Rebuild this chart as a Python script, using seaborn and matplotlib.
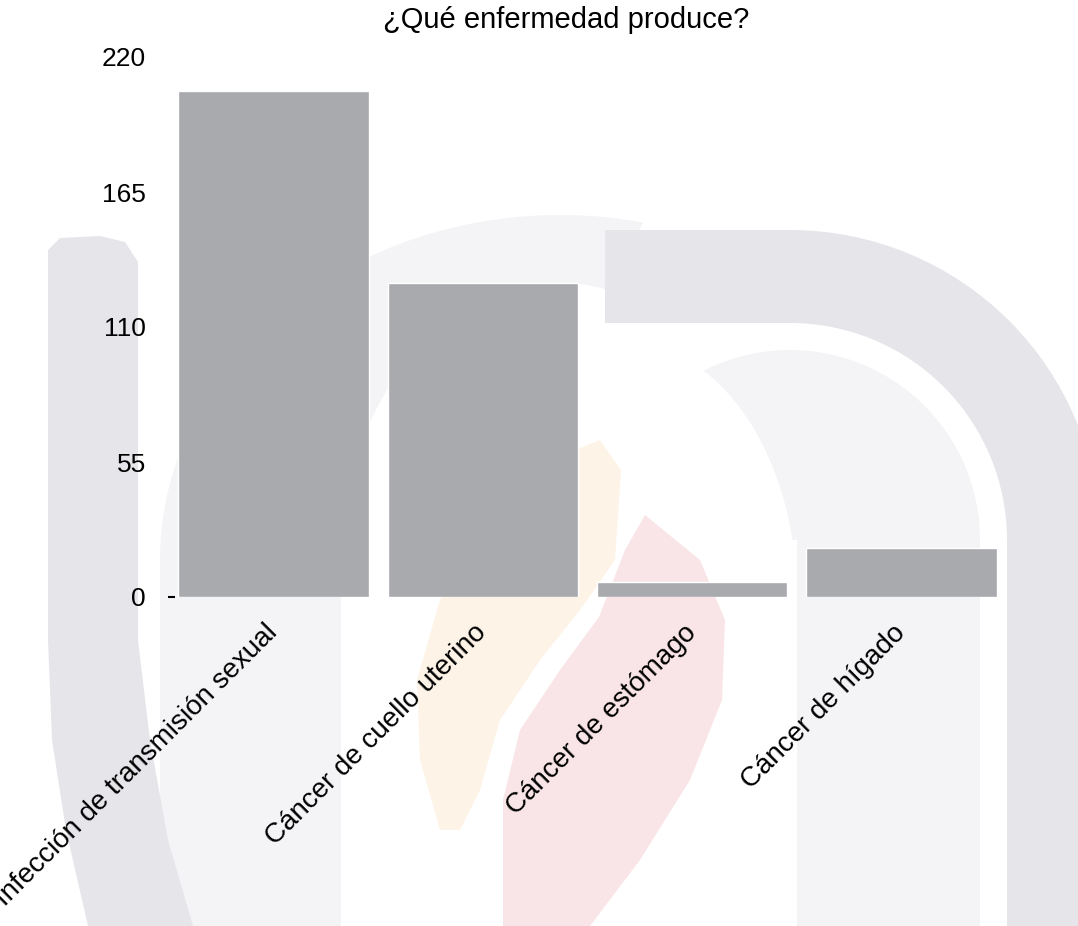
import numpy as np
import pandas as pd
import seaborn as sns
import matplotlib
matplotlib.use("Agg")
import matplotlib.pyplot as plt
import matplotlib.patches as mpatches

# data
categories = ["Infección de transmisión sexual", "Cáncer de cuello uterino",
              "Cáncer de estómago", "Cáncer de hígado"]
counts = [206, 128, 6, 20]
y_ticks = [0, 55, 110, 165, 220]
title = "¿Qué enfermedad produce?"

df = pd.DataFrame({"Enfermedad": categories, "Total": counts})

sns.set_theme(style="white")
plt.rcParams["font.family"] = ["Liberation Sans", "DejaVu Sans"]
plt.rcParams["text.color"] = "black"
plt.rcParams["xtick.color"] = "black"
plt.rcParams["ytick.color"] = "black"

fig = plt.figure(figsize=(10.78, 9.26), dpi=100, facecolor="white")

# --- faint logo watermark in the background (pixel coords) ---
bg = fig.add_axes([0, 0, 1, 1], zorder=0)
bg.set_xlim(0, 1078)
bg.set_ylim(926, 0)
bg.axis("off")
DARK, LIGHT, ORANGE, PINK = "#e6e5ea", "#f4f4f6", "#fef3e7", "#f9e5e7"

# left light arch
t_out = np.radians(np.linspace(180, 282, 60))
t_in = t_out[::-1]
outer = np.c_[560 + 400 * np.cos(t_out), 560 + 345 * np.sin(t_out)]
inner = np.c_[560 + 219 * np.cos(t_in), 560 + 277 * np.sin(t_in)]
pts = np.vstack([[[160, 926]], outer, inner, [[341, 926]]])
bg.add_patch(mpatches.Polygon(pts, closed=True, fc=LIGHT, ec="none"))

# left dark band
bg.add_patch(mpatches.Polygon(
    [(48, 250), (60, 238), (100, 236), (125, 242), (138, 262), (138, 640),
     (150, 740), (168, 840), (193, 926), (88, 926), (66, 830), (52, 740),
     (48, 640)], closed=True, fc=DARK, ec="none"))

# right light arch
bg.add_patch(mpatches.Wedge((790, 540), 190, 180, 360, fc=LIGHT, ec="none"))
bg.add_patch(mpatches.Rectangle((797, 540), 183, 386, fc=LIGHT, ec="none"))
bg.add_patch(mpatches.Ellipse((626, 598), 342, 510, fc="white", ec="none"))

# right dark arch
bg.add_patch(mpatches.Wedge((790, 540), 310, 270, 360, width=93, fc=DARK, ec="none"))
bg.add_patch(mpatches.Rectangle((605, 230), 186, 93, fc=DARK, ec="none"))
bg.add_patch(mpatches.Rectangle((1007, 540), 93, 386, fc=DARK, ec="none"))

# flames
bg.add_patch(mpatches.Polygon(
    [(600, 440), (621, 470), (615, 560), (580, 610), (540, 660), (500, 720),
     (480, 790), (460, 830), (440, 830), (420, 760), (417, 680), (440, 600),
     (490, 520), (550, 460)], closed=True, fc=ORANGE, ec="none"))
bg.add_patch(mpatches.Polygon(
    [(645, 515), (700, 560), (725, 620), (722, 700), (690, 780), (640, 860),
     (590, 926), (503, 926), (503, 800), (520, 730), (560, 670), (599, 617),
     (625, 550)], closed=True, fc=PINK, ec="none"))

# --- bar chart ---
ax = fig.add_axes([175 / 1078, 329 / 926, 825 / 1078, 540 / 926], zorder=1)
ax.set_facecolor("none")
sns.barplot(data=df, x="Enfermedad", y="Total", color="#a8aaae",
            saturation=1, width=0.91, ax=ax)
ax.set_xlim(-0.47, 3.47)
ax.set_ylim(0, 220)
ax.set_yticks(y_ticks)
ax.set_yticklabels([str(v) for v in y_ticks], fontsize=19)
ax.set_xlabel("")
ax.set_ylabel("")
sns.despine(ax=ax, left=True, bottom=True)

ax.tick_params(axis="y", length=5, width=1.5, color="black", pad=16, left=True)
for i, tk in enumerate(ax.yaxis.get_major_ticks()):
    tk.tick1line.set_visible(i == 0)
ax.tick_params(axis="x", length=0, pad=23)
ax.set_xticks(range(len(categories)))
ax.set_xticklabels(categories, rotation=45, ha="right", va="center",
                   rotation_mode="anchor", fontsize=20)

fig.text(566 / 1078, 1 - 20 / 926, title, ha="center", va="center", fontsize=21)

fig.savefig("out.png", dpi=100, facecolor="white")
